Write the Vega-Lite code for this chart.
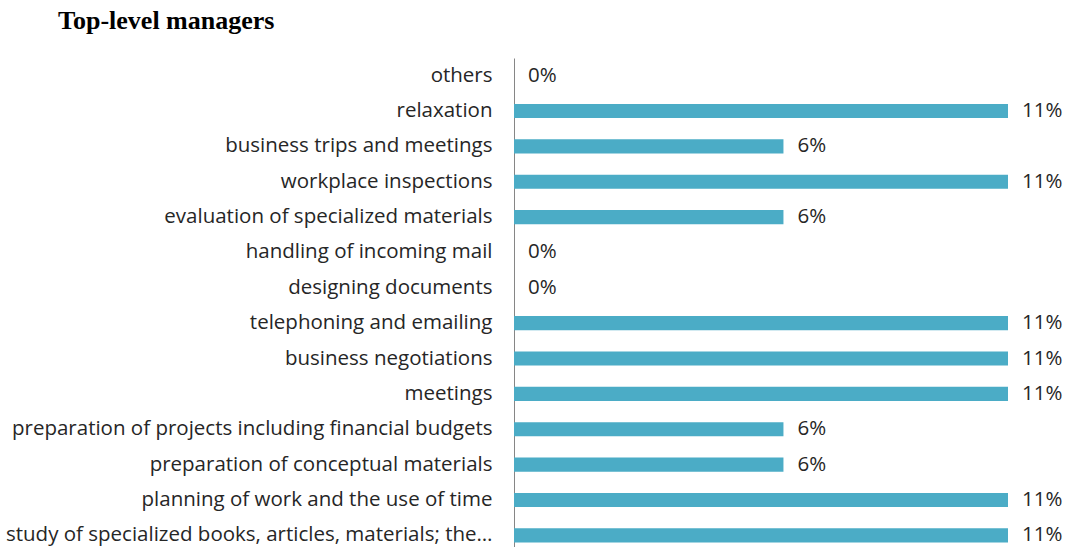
{
  "$schema": "https://vega.github.io/schema/vega-lite/v6.json",
  "autosize": "none",
  "width": 494,
  "height": 495,
  "padding": {"left": 514, "top": 58, "right": 64, "bottom": 0},
  "background": "white",
  "title": {
    "text": "Top-level managers",
    "anchor": "start",
    "frame": "group",
    "dx": -456,
    "offset": 24,
    "font": "Liberation Serif",
    "fontSize": 26,
    "fontWeight": "bold",
    "color": "#000000"
  },
  "data": {
    "values": [
      {"activity": "others", "share": 0},
      {"activity": "relaxation", "share": 0.11},
      {"activity": "business trips and meetings", "share": 0.06},
      {"activity": "workplace inspections", "share": 0.11},
      {"activity": "evaluation of specialized materials", "share": 0.06},
      {"activity": "handling of incoming mail", "share": 0},
      {"activity": "designing documents", "share": 0},
      {"activity": "telephoning and emailing", "share": 0.11},
      {"activity": "business negotiations", "share": 0.11},
      {"activity": "meetings", "share": 0.11},
      {"activity": "preparation of projects including financial budgets", "share": 0.06},
      {"activity": "preparation of conceptual materials", "share": 0.06},
      {"activity": "planning of work and the use of time", "share": 0.11},
      {"activity": "study of specialized books, articles, materials; the…", "share": 0.11}
    ]
  },
  "encoding": {
    "y": {
      "field": "activity",
      "type": "nominal",
      "sort": null,
      "scale": {"paddingInner": 0.6, "paddingOuter": 0.3},
      "axis": {
        "title": null,
        "ticks": false,
        "labelPadding": 22,
        "labelFont": "Open Sans",
        "labelFontSize": 20.5,
        "labelColor": "#262626",
        "labelLimit": 600,
        "domainColor": "#868686",
        "domainWidth": 1
      }
    },
    "x": {
      "field": "share",
      "type": "quantitative",
      "scale": {"domain": [0, 0.11], "nice": false},
      "axis": null
    }
  },
  "layer": [
    {"mark": {"type": "bar", "color": "#4BACC6"}},
    {
      "mark": {"type": "text", "align": "left", "dx": 14, "font": "Open Sans", "fontSize": 20.5, "color": "#262626"},
      "encoding": {"text": {"field": "share", "type": "quantitative", "format": ".0%"}}
    }
  ],
  "config": {"view": {"stroke": null}}
}
